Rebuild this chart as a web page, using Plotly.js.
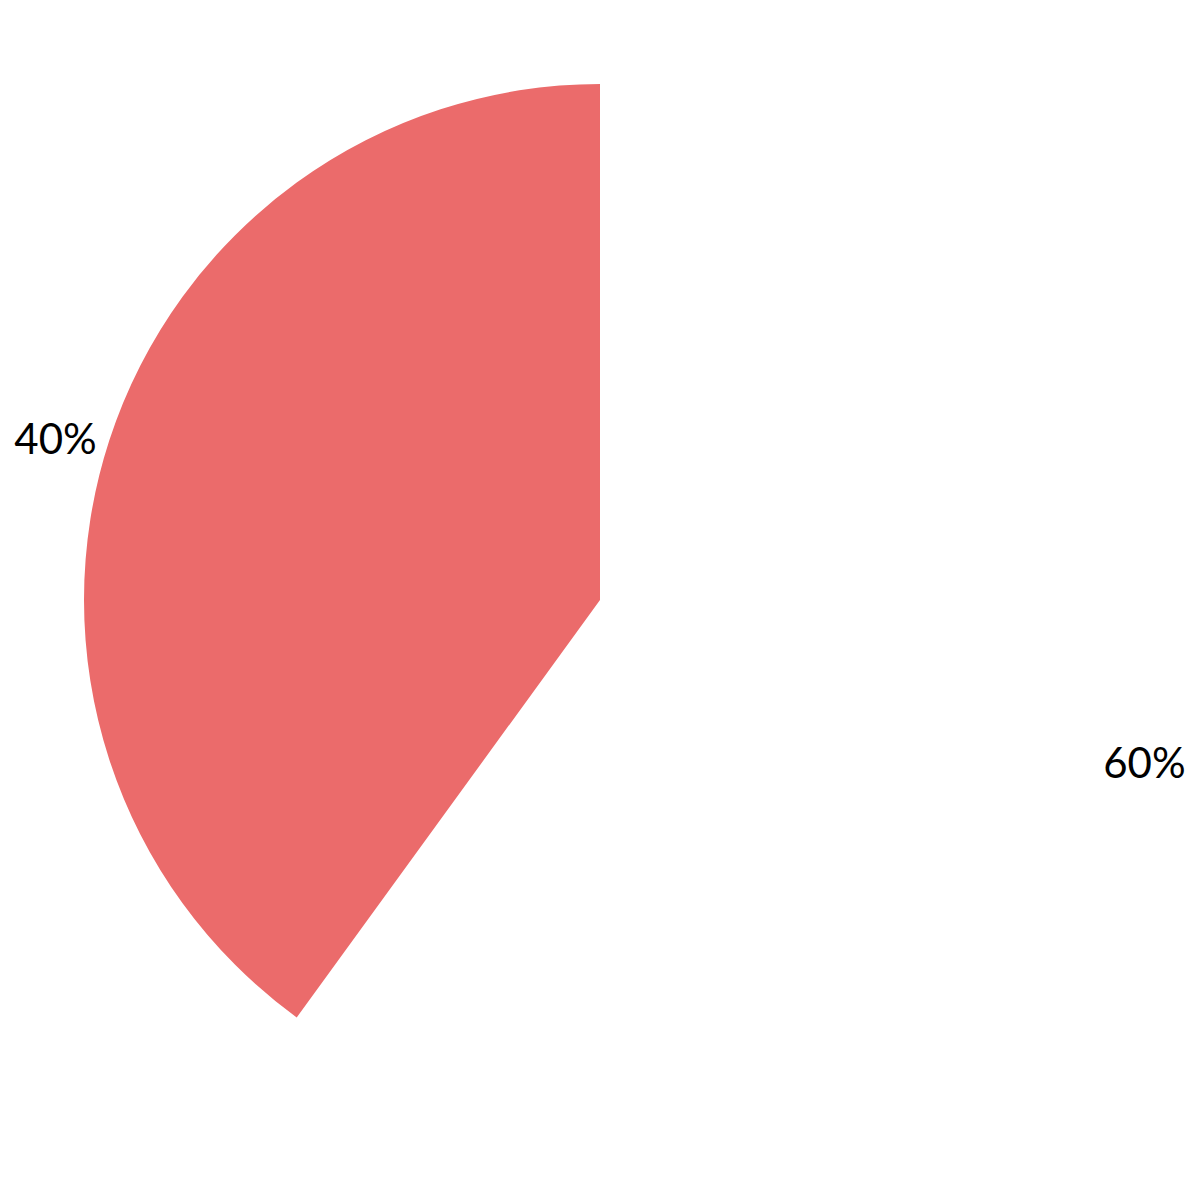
<!DOCTYPE html>
<html>
<head>
<meta charset="utf-8">
<script src="https://cdn.plot.ly/plotly-3.0.1.min.js"></script>
<style>
  html, body { margin: 0; padding: 0; background: #fff; }
  #chart { width: 1200px; height: 1200px; }
</style>
</head>
<body>
<div id="chart"></div>
<script>
// slice shares, drawn clockwise from 12 o'clock: white 60% first, then red 40%
const labels = ["B", "A"];
const values = [60, 40];
const colors = ["#ffffff", "#eb6b6b"];

let data = [{
    type: "pie",
    labels: labels,
    values: values,
    sort: false,
    direction: "clockwise",
    rotation: 0,
    textinfo: "percent",
    textposition: "outside",
    marker: {
        colors: colors,
        line: {width: 0}
    },
    outsidetextfont: {
        family: "Lato, 'Open Sans', sans-serif",
        size: 42,
        color: "#000000"
    },
    hoverinfo: "none"
}];

let layout = {
    width: 1200,
    height: 1200,
    margin: {l: 84, r: 84, t: 84, b: 84},
    showlegend: false,
    paper_bgcolor: "#ffffff",
    plot_bgcolor: "#ffffff"
};

Plotly.newPlot("chart", data, layout, {displayModeBar: false});
</script>
</body>
</html>
